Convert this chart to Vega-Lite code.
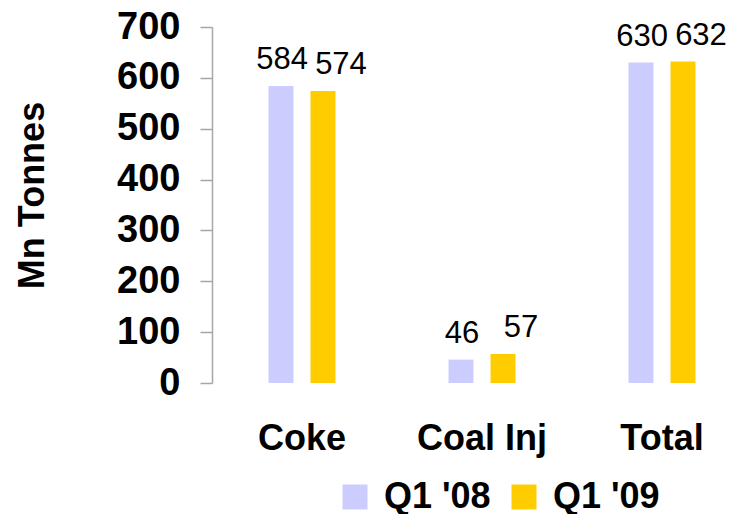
{
  "$schema": "https://vega.github.io/schema/vega-lite/v6.json",
  "autosize": {"type": "none"},
  "padding": {"left": 212, "top": 27, "right": 0, "bottom": 131},
  "width": 540,
  "height": 356,
  "background": "white",
  "config": {
    "font": "Liberation Sans",
    "view": {"stroke": null}
  },
  "data": {
    "values": [
      {"category": "Coke", "series": "Q1 '08", "value": 584},
      {"category": "Coke", "series": "Q1 '09", "value": 574},
      {"category": "Coal Inj", "series": "Q1 '08", "value": 46},
      {"category": "Coal Inj", "series": "Q1 '09", "value": 57},
      {"category": "Total", "series": "Q1 '08", "value": 630},
      {"category": "Total", "series": "Q1 '09", "value": 632}
    ]
  },
  "encoding": {
    "x": {
      "field": "category",
      "type": "nominal",
      "sort": ["Coke", "Coal Inj", "Total"],
      "scale": {"paddingInner": 0.628, "paddingOuter": 0.314},
      "axis": {
        "title": null,
        "domain": false,
        "ticks": false,
        "labelAngle": 0,
        "labelFontSize": 36,
        "labelFontWeight": "bold",
        "labelColor": "black",
        "labelPadding": 38,
        "labelFont": "Liberation Sans"
      }
    },
    "xOffset": {
      "field": "series",
      "type": "nominal",
      "sort": ["Q1 '08", "Q1 '09"],
      "scale": {"paddingInner": 0.405, "paddingOuter": 0}
    },
    "y": {
      "field": "value",
      "type": "quantitative",
      "scale": {"domain": [0, 700], "nice": false},
      "axis": {
        "values": [0, 100, 200, 300, 400, 500, 600, 700],
        "grid": false,
        "title": "Mn Tonnes",
        "titleFontSize": 36,
        "titleFontWeight": "bold",
        "titleColor": "black",
        "titleX": -180,
        "titleY": 168,
        "titleAngle": 270,
        "titleAlign": "center",
        "titleBaseline": "middle",
        "domainColor": "#A6A6A6",
        "domainWidth": 1.5,
        "tickColor": "#A6A6A6",
        "tickWidth": 1.5,
        "tickSize": 12,
        "labelFontSize": 38,
        "labelFontWeight": "bold",
        "labelColor": "black",
        "labelPadding": 20
      }
    }
  },
  "layer": [
    {
      "mark": {"type": "bar"},
      "encoding": {
        "color": {
          "field": "series",
          "type": "nominal",
          "sort": ["Q1 '08", "Q1 '09"],
          "scale": {"domain": ["Q1 '08", "Q1 '09"], "range": ["#CCCCFF", "#FFCC00"]},
          "legend": {
            "title": null,
            "orient": "none",
            "direction": "horizontal",
            "legendX": 125,
            "legendY": 452,
            "symbolType": "square",
            "symbolSize": 625,
            "symbolStrokeWidth": 0,
            "symbolOpacity": 1,
            "labelFontSize": 36,
            "labelFontWeight": "bold",
            "labelColor": "black",
            "labelOffset": 11,
            "columnPadding": 15,
            "labelLimit": 300
          }
        }
      }
    },
    {
      "transform": [{"filter": "datum.series === \"Q1 '08\""}],
      "mark": {"type": "text", "baseline": "alphabetic", "dy": -17, "dx": 1, "fontSize": 31, "color": "black"},
      "encoding": {
        "text": {"field": "value", "type": "quantitative"}
      }
    },
    {
      "transform": [{"filter": "datum.series === \"Q1 '09\""}],
      "mark": {"type": "text", "baseline": "alphabetic", "dy": -17, "dx": 18, "fontSize": 31, "color": "black"},
      "encoding": {
        "text": {"field": "value", "type": "quantitative"}
      }
    }
  ]
}
